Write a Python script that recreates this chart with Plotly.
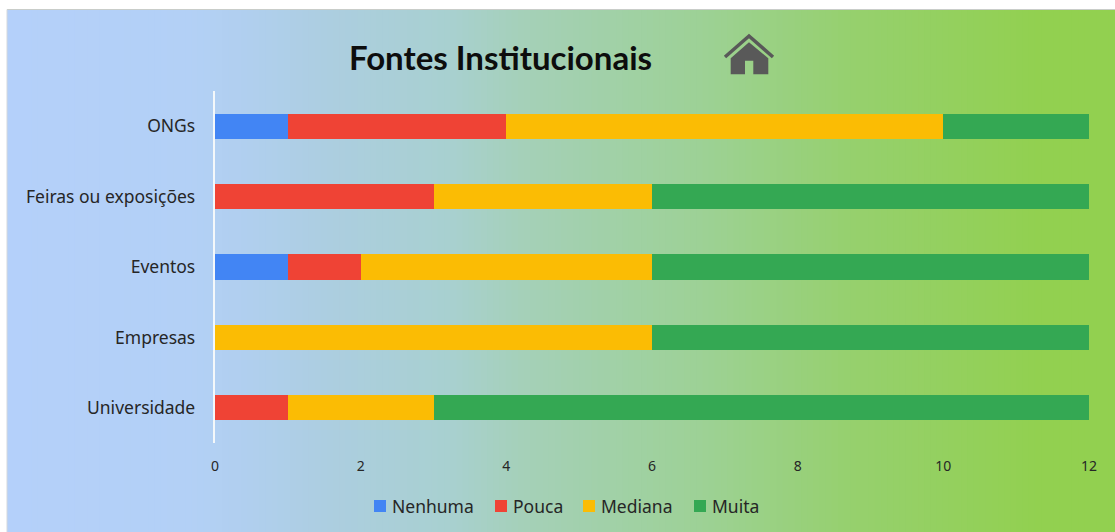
import plotly.graph_objects as go

categories = ["Universidade", "Empresas", "Eventos", "Feiras ou exposições", "ONGs"]
nenhuma = [0, 0, 1, 0, 1]
pouca = [1, 0, 1, 3, 3]
mediana = [2, 6, 4, 3, 6]
muita = [9, 6, 6, 6, 2]
series = [("Nenhuma", nenhuma, "#4285F4"), ("Pouca", pouca, "#EF4335"),
          ("Mediana", mediana, "#FBBC04"), ("Muita", muita, "#34A853")]
x_ticks = [0, 2, 4, 6, 8, 10, 12]
legend_swatch_left = [374, 495, 583, 694]

W, H = 1115, 532
L, R, T, B = 215, 1089, 91, 443
TXT = "#262626"

def px(x):
    return (x - L) / (R - L)

def py(y):
    return (B - y) / (B - T)

fig = go.Figure()
for name, vals, col in series:
    fig.add_trace(go.Bar(y=categories, x=vals, name=name, orientation="h", showlegend=False,
                         marker=dict(color=col, line=dict(width=0))))

# background gradient
grad = [(7, (180, 208, 250)), (190, (179, 208, 246)), (250, (176, 207, 238)), (330, (172, 206, 224)),
        (450, (168, 208, 208)), (520, (165, 208, 185)), (700, (157, 209, 150)),
        (850, (150, 208, 110)), (1040, (146, 208, 80)), (1115, (146, 208, 80))]

def grad_at(x):
    for (a, ca), (b, cb) in zip(grad, grad[1:]):
        if x <= b:
            t = (x - a) / (b - a)
            return [round(p + (q - p) * t) for p, q in zip(ca, cb)]
    return list(grad[-1][1])

shapes = []
X0, X1 = 7, 1115
STEPS = 180
for i in range(STEPS):
    a = X0 + (X1 - X0) * i / STEPS
    b = X0 + (X1 - X0) * (i + 1) / STEPS
    c = grad_at((a + b) / 2)
    shapes.append(dict(type="rect", xref="paper", yref="paper", layer="below",
                       x0=px(a), x1=px(b + 1 if i < STEPS - 1 else b), y0=py(10), y1=py(532),
                       line=dict(width=0), fillcolor=f"rgb({c[0]},{c[1]},{c[2]})"))
# chart border
shapes.append(dict(type="line", xref="paper", yref="paper", layer="below", x0=px(7), x1=px(1115), y0=py(9.5), y1=py(9.5),
                   line=dict(color="#C9CDC9", width=1)))
shapes.append(dict(type="line", xref="paper", yref="paper", layer="below", x0=px(7), x1=px(7), y0=py(9.5), y1=py(532),
                   line=dict(color="#D4D8DC", width=1)))

def path(points, close=True):
    s = "M" + " L".join(f"{px(x):.5f},{py(y):.5f}" for x, y in points)
    return s + (" Z" if close else "")

# house icon
shapes.append(dict(type="path", xref="paper", yref="paper",
                   path=path([(749, 42.3), (730.7, 58.3), (730.7, 74.3), (745, 74.3), (745, 60.7),
                              (753.3, 60.7), (753.3, 74.3), (768.3, 74.3), (768.3, 58.3)]),
                   fillcolor="#595959", line=dict(width=0)))
shapes.append(dict(type="path", xref="paper", yref="paper",
                   path=path([(725, 57), (749, 36), (773, 57)], close=False),
                   line=dict(color="#595959", width=3.5)))

# legend
annotations = []
for (name, _, col), left in zip(series, legend_swatch_left):
    shapes.append(dict(type="rect", xref="paper", yref="paper", x0=px(left), x1=px(left + 12),
                       y0=py(500), y1=py(512), fillcolor=col, line=dict(width=0)))
    annotations.append(dict(text=name, xref="paper", yref="paper", x=px(left + 16), y=py(506),
                            xanchor="left", yanchor="middle", showarrow=False,
                            font=dict(size=17.5, color=TXT)))

fig.update_layout(
    width=W, height=H, autosize=False,
    margin=dict(l=L, r=W - R, t=T, b=H - B, pad=0),
    paper_bgcolor="white", plot_bgcolor="rgba(0,0,0,0)",
    barmode="stack", bargap=0.64, shapes=shapes, annotations=annotations, showlegend=False,
    title=dict(text="<b>Fontes Institucionais</b>", font=dict(family="Lato", size=33, color="#0D0D0D"),
               xref="paper", yref="container", x=px(500.5), xanchor="center", y=1 - 58 / H, yanchor="middle"),
    font=dict(family="Noto Sans", size=15, color=TXT),
    xaxis=dict(range=[0, 12], tickvals=x_ticks, showgrid=False, zeroline=False, showline=False,
               ticks="outside", ticklen=10, tickcolor="rgba(0,0,0,0)", tickfont=dict(size=14)),
    yaxis=dict(categoryorder="array", categoryarray=categories, showgrid=False, zeroline=False,
               showline=True, linecolor="#F4F8FA", linewidth=1.5, ticks="outside", ticklen=14.5,
               tickcolor="rgba(0,0,0,0)", tickfont=dict(size=17.5)),
)

fig.write_html("out.html", config=dict(displayModeBar=False),
               post_script="document.body.style.margin='0';")
